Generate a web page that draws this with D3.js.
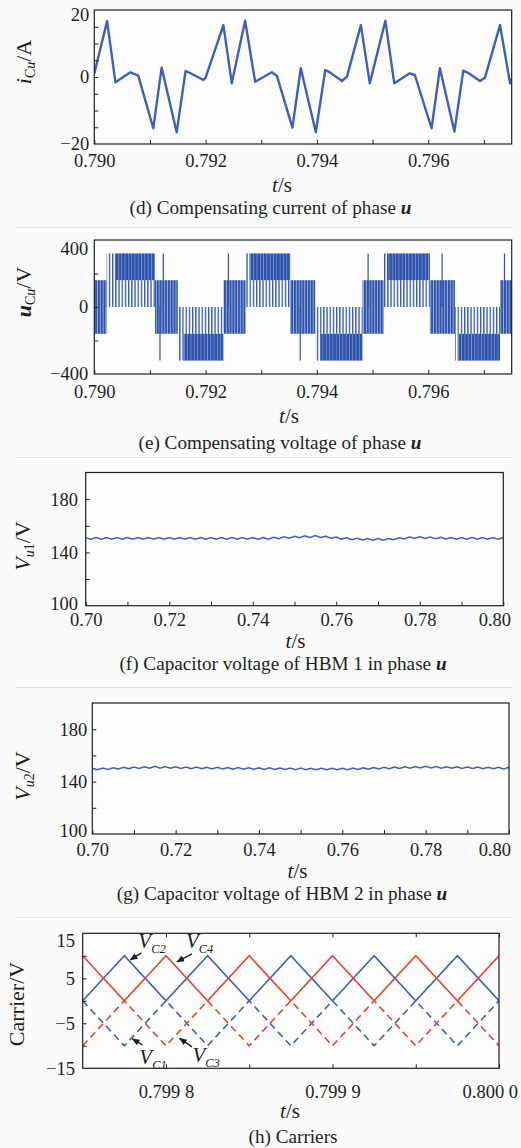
<!DOCTYPE html>
<html>
<head>
<meta charset="utf-8">
<script src="https://cdn.jsdelivr.net/npm/d3@7"></script>
<style>
  body { margin: 0; background: #fafafa; }
  svg, svg text { font-family: "Liberation Serif", "Times New Roman", "DejaVu Serif", serif; }
</style>
</head>
<body>
<svg id="fig" width="521" height="1148"></svg>
<script>
// ---- (d) compensating current i_Cu (A), vertices
const iCuTime = [0.79000, 0.79023, 0.79038, 0.79065, 0.79079, 0.79106, 0.79121, 0.79148, 0.79164, 0.79172, 0.79196, 0.79200,
  0.79232, 0.79247, 0.79271, 0.79289, 0.79319, 0.79328, 0.79356, 0.79371, 0.79398, 0.79415, 0.79424, 0.79445, 0.79454,
  0.79479, 0.79495, 0.79523, 0.79539, 0.79567, 0.79576, 0.79606, 0.79621, 0.79647, 0.79663, 0.79672, 0.79693, 0.79702,
  0.79729, 0.79747, 0.79750];
const iCuValue = [1.0, 16.7, -1.6, 1.4, 0.4, -15.3, 2.8, -16.5, 1.8, 1.2, -0.9, -0.2,
  15.5, -1.9, 16.8, -1.4, 1.4, 0.4, -15.1, 2.6, -16.5, 2.1, 1.3, -1.2, 0.1,
  15.5, -1.9, 16.8, -1.9, 1.1, 0.6, -15.3, 2.6, -16.3, 1.9, 1.2, -1.2, -0.2,
  15.5, -1.9, -0.5];

// ---- (e) compensating voltage u_Cu (V), switching bands
const outerStart = [0.79037, 0.79160, 0.79279, 0.79407, 0.79526, 0.79655];
const outerEnd   = [0.79109, 0.79232, 0.79352, 0.79482, 0.79603, 0.79729];
const outerLow   = [160, -320, 160, -320, 160, -320];
const outerHigh  = [320, -160, 320, -160, 320, -160];
const innerLow   = [0, -160, 0, -160, 0, -160];
const innerHigh  = [160, 0, 160, 0, 160, 0];
const midStart = [0.79000, 0.79109, 0.79232, 0.79352, 0.79482, 0.79603, 0.79729];
const midEnd   = [0.79022, 0.79150, 0.79272, 0.79397, 0.79520, 0.79648, 0.79750];
const midLow   = [-160, -160, -160, -160, -160, -160, -160];
const midHigh  = [160, 160, 160, 160, 160, 160, 160];
const stepStart = [0.79022, 0.79150, 0.79272, 0.79397, 0.79520, 0.79648];
const stepEnd   = [0.79037, 0.79160, 0.79279, 0.79407, 0.79526, 0.79655];
const stepLow   = [0, -320, 0, -320, 0, -320];
const stepHigh  = [320, 0, 320, 0, 320, 0];
const spikeTime = [0.79118, 0.79124, 0.79241, 0.79370, 0.79492, 0.79625, 0.79737];
const spikeLow  = [-320, 0, 0, -320, 0, 0, 0];
const spikeHigh = [0, 320, 320, 0, 320, 320, 320];

// ---- (f), (g) capacitor voltages (V), sampled every 1.25 ms from 0.70 s
const capStart = 0.70, capStep = 0.00125;
const vU1 = [151.1, 149.9, 151.1, 149.9, 151.1, 149.9, 151.1, 149.9, 151.1, 149.9, 151.1, 149.9, 151.1, 149.9, 151.1, 149.9,
  151.1, 149.9, 151.1, 149.9, 151.1, 149.9, 151.1, 149.9, 151.1, 149.9, 151.1, 149.9, 151.1, 149.9, 151.1, 149.9,
  151.1, 149.9, 151.1, 149.9, 151.3, 150.3, 151.7, 150.7, 152.1, 151.1, 152.4, 151.3, 152.6, 151.2, 152.1, 150.6,
  151.5, 150.0, 151.0, 149.6, 150.7, 149.4, 150.5, 149.2, 150.4, 149.2, 150.5, 149.5, 151.0, 150.1, 151.6, 150.6,
  151.8, 150.5, 151.6, 150.3, 151.4, 150.1, 151.2, 149.9, 151.1, 149.9, 151.1, 149.9, 151.1, 149.9, 151.1, 149.9, 151.1];
const vU2 = [150.2, 149.1, 150.4, 149.3, 150.6, 149.6, 150.9, 149.9, 151.2, 150.1, 151.4, 150.3, 151.6, 150.3, 151.5, 150.2,
  151.3, 150.0, 151.2, 149.9, 151.1, 149.8, 151.0, 149.7, 150.9, 149.6, 150.8, 149.5, 150.7, 149.4, 150.6, 149.4,
  150.5, 149.3, 150.5, 149.2, 150.4, 149.2, 150.3, 149.1, 150.3, 149.0, 150.2, 149.0, 150.2, 149.0, 150.2, 149.0,
  150.2, 149.1, 150.4, 149.3, 150.6, 149.5, 150.8, 149.7, 151.0, 149.9, 151.2, 150.1, 151.4, 150.3, 151.5, 150.4,
  151.6, 150.4, 151.5, 150.3, 151.4, 150.2, 151.3, 150.1, 151.2, 150.0, 151.1, 149.9, 151.0, 149.8, 151.0, 149.7, 150.9];

// ---- (h) carriers (V), triangle vertices
const carrierTime = [0.79975, 0.799775, 0.7998, 0.799825, 0.79985, 0.799875, 0.7999, 0.799925, 0.79995, 0.799975, 0.8];
const vC1 = [0, -10, 0, -10, 0, -10, 0, -10, 0, -10, 0];
const vC2 = [0, 10, 0, 10, 0, 10, 0, 10, 0, 10, 0];
const vC3 = [-10, 0, -10, 0, -10, 0, -10, 0, -10, 0, -10];
const vC4 = [10, 0, 10, 0, 10, 0, 10, 0, 10, 0, 10];
const carrierNames = ['C2', 'C4', 'C1', 'C3'];
const carrierTargetT = [0.799775, 0.7998, 0.799775, 0.7998];
const carrierTargetV = [10, 10, -10, -10];

const serif = '"Liberation Serif", "Times New Roman", "DejaVu Serif", serif';
const blue = '#3f5fbc', pwmBlue = '#2d53ae', red = '#f0412f', ink = '#1e1e1e';
const svg = d3.select('#fig').attr('font-family', serif);
const defs = svg.append('defs');

function stripes(id, period, bar) {
  defs.append('pattern').attr('id', id).attr('patternUnits', 'userSpaceOnUse')
    .attr('width', period).attr('height', 20)
    .append('rect').attr('width', bar).attr('height', 20).attr('fill', pwmBlue);
}
stripes('pwmDense', 3.3, 3.0);
stripes('pwmMid', 2.8, 2.3);
stripes('pwmSparse', 3.2, 1.3);

defs.append('marker').attr('id', 'arrow').attr('viewBox', '0 0 10 10')
  .attr('refX', 9).attr('refY', 5).attr('markerWidth', 8).attr('markerHeight', 8)
  .attr('orient', 'auto-start-reverse').attr('markerUnits', 'userSpaceOnUse')
  .append('path').attr('d', 'M0,1L10,5L0,9z').attr('fill', ink);

let clipCount = 0;
function makePanel(cfg) {
  const g = svg.append('g');
  const x = d3.scaleLinear().domain(cfg.xDomain).range([cfg.left, cfg.right]);
  const y = d3.scaleLinear().domain(cfg.yDomain).range([cfg.bottom, cfg.top]);
  const id = 'clip' + (clipCount++);
  defs.append('clipPath').attr('id', id).append('rect')
    .attr('x', cfg.left).attr('y', cfg.top)
    .attr('width', cfg.right - cfg.left).attr('height', cfg.bottom - cfg.top);
  g.append('rect').attr('x', cfg.left).attr('y', cfg.top)
    .attr('width', cfg.right - cfg.left).attr('height', cfg.bottom - cfg.top).attr('fill', '#fdfdfd');
  const plot = g.append('g').attr('clip-path', `url(#${id})`);
  return { g, plot, x, y, cfg };
}

function styleAxis(sel) {
  sel.attr('font-family', serif).attr('font-size', null).attr('color', ink);
  sel.select('.domain').remove();
}

function finishPanel(p) {
  const { g, x, y, cfg } = p;
  // ticks point into the plot
  g.append('g').attr('transform', `translate(0,${cfg.bottom})`)
    .call(d3.axisBottom(x).tickValues(cfg.xMinor).tickSize(-4).tickFormat(''))
    .call(styleAxis);
  if (cfg.topTicks) {
    g.append('g').attr('transform', `translate(0,${cfg.top})`)
      .call(d3.axisTop(x).tickValues(cfg.xMinor).tickSize(-4).tickFormat(''))
      .call(styleAxis);
  }
  g.append('g').attr('transform', `translate(${cfg.left},0)`)
    .call(d3.axisLeft(y).tickValues(cfg.yMinor).tickSize(-4).tickFormat(''))
    .call(styleAxis);

  const xl = g.append('g').attr('transform', `translate(0,${cfg.bottom})`)
    .call(d3.axisBottom(x).tickValues(cfg.xTicks).tickSize(0).tickPadding(cfg.xPad)
      .tickFormat((d, i) => cfg.xLabels[i]))
    .call(styleAxis);
  xl.selectAll('text').attr('font-size', 18.5).attr('fill', ink)
    .each(function () {
      const w = this.getComputedTextLength();
      const cx = +d3.select(this.parentNode).attr('transform').match(/translate\(([-\d.]+)/)[1];
      if (cx + w / 2 > cfg.maxRight) d3.select(this).attr('x', cfg.maxRight - w / 2 - cx);
    });

  const yl = g.append('g').attr('transform', `translate(${cfg.left},0)`)
    .call(d3.axisLeft(y).tickValues(cfg.yTicks).tickSize(0).tickPadding(cfg.yPad)
      .tickFormat((d, i) => cfg.yLabels[i]))
    .call(styleAxis);
  yl.selectAll('text').attr('font-size', 18.5).attr('fill', ink)
    .filter(d => d === cfg.yDomain[1]).attr('y', cfg.topShift);
  yl.selectAll('text').filter(d => d === cfg.yDomain[0]).attr('y', -cfg.bottomShift);

  g.append('rect').attr('x', cfg.left).attr('y', cfg.top)
    .attr('width', cfg.right - cfg.left).attr('height', cfg.bottom - cfg.top)
    .attr('fill', 'none').attr('stroke', ink).attr('stroke-width', 1.2);

  // axis titles
  const xt = g.append('text').attr('x', cfg.xTitle[0]).attr('y', cfg.xTitle[1])
    .attr('text-anchor', 'middle').attr('font-size', 21).attr('fill', ink);
  xt.append('tspan').attr('font-style', 'italic').text('t');
  xt.append('tspan').text('/s');

  const yt = g.append('text')
    .attr('transform', `translate(${cfg.yTitle[0]},${cfg.yTitle[1]}) rotate(-90)`)
    .attr('text-anchor', 'middle').attr('font-size', 22).attr('fill', ink);
  cfg.yTitleParts.forEach(part => {
    const ts = yt.append('tspan').text(part.t);
    if (part.i) ts.attr('font-style', 'italic');
    if (part.b) ts.attr('font-weight', 'bold');
    if (part.sub) ts.attr('font-size', 14);
    if (part.dy) ts.attr('dy', part.dy);
  });

  const cap = g.append('text').attr('x', cfg.caption[0]).attr('y', cfg.caption[1])
    .attr('text-anchor', 'middle').attr('font-size', 19.2).attr('fill', ink);
  cap.append('tspan').text(cfg.captionText);
  if (cfg.captionU) cap.append('tspan').attr('font-style', 'italic').attr('font-weight', 'bold').text(' u');

  // faint separator below each panel
  if (cfg.sep) {
    svg.append('line').attr('x1', 15).attr('x2', 512)
      .attr('y1', cfg.sep).attr('y2', cfg.sep).attr('stroke', '#e4e4e4').attr('stroke-width', 1);
  }
}

// ---------- panel (d)
const pd = makePanel({
  left: 94.3, right: 511.7, top: 10, bottom: 144,
  xDomain: [0.790, 0.7975], yDomain: [-20, 20],
  xMinor: [0.790, 0.791, 0.792, 0.793, 0.794, 0.795, 0.796, 0.797],
  xTicks: [0.790, 0.792, 0.794, 0.796], xLabels: ['0.790', '0.792', '0.794', '0.796'],
  yMinor: [-15, -10, -5, 0, 5, 10, 15], yTicks: [-20, 0, 20], yLabels: ['\u221220', '0', '20'],
  xPad: 10, yPad: 5, topShift: 5, bottomShift: 0, maxRight: 530,
  xTitle: [282, 192], caption: [270.5, 214], sep: 227.5,
  yTitle: [31, 62],
  yTitleParts: [{ t: 'i', i: true }, { t: 'C', sub: true, dy: 4 }, { t: 'u', sub: true, i: true }, { t: '/A', dy: -4 }],
  captionText: '(d) Compensating current of phase', captionU: true
});
pd.plot.append('path')
  .datum(iCuTime.map((t, i) => [t, iCuValue[i]]))
  .attr('d', d3.line().x(d => pd.x(d[0])).y(d => pd.y(d[1])))
  .attr('fill', 'none').attr('stroke', blue).attr('stroke-width', 2.4).attr('stroke-linejoin', 'round');
finishPanel(pd);

// ---------- panel (e)
const pe = makePanel({
  left: 94.3, right: 511.7, top: 240, bottom: 374,
  xDomain: [0.790, 0.7975], yDomain: [-400, 400],
  xMinor: [0.790, 0.791, 0.792, 0.793, 0.794, 0.795, 0.796, 0.797],
  xTicks: [0.790, 0.792, 0.794, 0.796], xLabels: ['0.790', '0.792', '0.794', '0.796'],
  yMinor: [-200, 0, 200], yTicks: [-400, 0, 400], yLabels: ['\u2212400', '0', '400'],
  xPad: 11, yPad: 6, topShift: 9, bottomShift: 0, maxRight: 530,
  xTitle: [289, 423], caption: [280, 449], sep: 457.5,
  yTitle: [31, 292],
  yTitleParts: [{ t: 'u', i: true, b: true }, { t: 'C', sub: true, dy: 4 }, { t: 'u', sub: true, i: true }, { t: '/V', dy: -4 }],
  captionText: '(e) Compensating voltage of phase', captionU: true
});
function bands(p, start, end, low, high, fill) {
  p.plot.append('g').selectAll('rect').data(start).join('rect')
    .attr('x', (d, i) => p.x(start[i]))
    .attr('width', (d, i) => p.x(end[i]) - p.x(start[i]))
    .attr('y', (d, i) => p.y(high[i]))
    .attr('height', (d, i) => p.y(low[i]) - p.y(high[i]))
    .attr('fill', fill);
}
bands(pe, outerStart, outerEnd, innerLow, innerHigh, 'url(#pwmSparse)');
bands(pe, outerStart, outerEnd, outerLow, outerHigh, 'url(#pwmDense)');
bands(pe, midStart, midEnd, midLow, midHigh, 'url(#pwmMid)');
bands(pe, stepStart, stepEnd, stepLow, stepHigh, 'url(#pwmSparse)');
pe.plot.append('g').selectAll('line').data(spikeTime).join('line')
  .attr('x1', d => pe.x(d)).attr('x2', d => pe.x(d))
  .attr('y1', (d, i) => pe.y(spikeLow[i])).attr('y2', (d, i) => pe.y(spikeHigh[i]))
  .attr('stroke', pwmBlue).attr('stroke-width', 1.2);
finishPanel(pe);

// ---------- panels (f), (g)
function capPanel(cfg, values) {
  const p = makePanel(cfg);
  p.plot.append('path')
    .datum(values.map((v, i) => [capStart + i * capStep, v]))
    .attr('d', d3.line().x(d => p.x(d[0])).y(d => p.y(d[1])))
    .attr('fill', 'none').attr('stroke', blue).attr('stroke-width', 1.5);
  finishPanel(p);
}
const capTicks = [0.70, 0.71, 0.72, 0.73, 0.74, 0.75, 0.76, 0.77, 0.78, 0.79, 0.80];
capPanel({
  left: 85.7, right: 503.3, top: 472.5, bottom: 605.7,
  xDomain: [0.70, 0.80], yDomain: [100, 200],
  xMinor: capTicks, xTicks: [0.70, 0.72, 0.74, 0.76, 0.78, 0.80],
  xLabels: ['0.70', '0.72', '0.74', '0.76', '0.78', '0.80'],
  yMinor: [120, 140, 160, 180], yTicks: [100, 140, 180], yLabels: ['100', '140', '180'],
  xPad: 7, yPad: 7.7, topShift: 0, bottomShift: 2, maxRight: 511,
  xTitle: [295.5, 648], caption: [283, 670], sep: 687.5,
  yTitle: [30, 546],
  yTitleParts: [{ t: 'V', i: true }, { t: 'u', sub: true, i: true, dy: 4 }, { t: '1', sub: true }, { t: '/V', dy: -4 }],
  captionText: '(f) Capacitor voltage of HBM 1 in phase', captionU: true
}, vU1);
capPanel({
  left: 92.3, right: 509, top: 703, bottom: 834,
  xDomain: [0.70, 0.80], yDomain: [100, 200],
  xMinor: capTicks, xTicks: [0.70, 0.72, 0.74, 0.76, 0.78, 0.80],
  xLabels: ['0.70', '0.72', '0.74', '0.76', '0.78', '0.80'],
  yMinor: [120, 140, 160, 180], yTicks: [100, 140, 180], yLabels: ['100', '140', '180'],
  xPad: 9, yPad: 5, topShift: 0, bottomShift: 3, maxRight: 511,
  xTitle: [297.5, 878], caption: [282, 900], sep: 917.5,
  yTitle: [30, 776],
  yTitleParts: [{ t: 'V', i: true }, { t: 'u', sub: true, i: true, dy: 4 }, { t: '2', sub: true }, { t: '/V', dy: -4 }],
  captionText: '(g) Capacitor voltage of HBM 2 in phase', captionU: true
}, vU2);

// ---------- panel (h)
const ph = makePanel({
  left: 82.7, right: 499, top: 933.3, bottom: 1068.3,
  xDomain: [0.79975, 0.8000], yDomain: [-15, 15],
  xMinor: [0.7998, 0.79985, 0.7999, 0.79995, 0.8],
  xTicks: [0.7998, 0.7999, 0.8], xLabels: ['0.799 8', '0.799 9', '0.800 0'],
  yMinor: [-10, -5, 0, 5, 10], yTicks: [-15, -5, 5, 15], yLabels: ['\u221215', '\u22125', '5', '15'],
  xPad: 16.6, yPad: 7.7, topShift: 7, bottomShift: 0, maxRight: 518, topTicks: true,
  xTitle: [290, 1118], caption: [293, 1143], sep: 0,
  yTitle: [24, 1004],
  yTitleParts: [{ t: 'Carrier/V' }],
  captionText: '(h) Carriers', captionU: false
});
const carrierLine = d3.line().x(d => ph.x(d[0])).y(d => ph.y(d[1]));
[[vC1, blue, true], [vC3, red, true], [vC2, blue, false], [vC4, red, false]].forEach(([vals, col, dashed]) => {
  ph.plot.append('path')
    .datum(carrierTime.map((t, i) => [t, vals[i]]))
    .attr('d', carrierLine).attr('fill', 'none').attr('stroke', col).attr('stroke-width', 1.6)
    .attr('stroke-dasharray', dashed ? '7,4.5' : null);
});
finishPanel(ph);

// carrier annotations: arrow tip offset from the marked vertex, tail and label offsets
const annTip = [[6, 4], [11, 6], [8, -7], [13.5, -7.5]];
const annTail = [[11, -7], [15, -8], [10, 6], [12.5, 8.5]];
const annText = [[8, -12], [9, -14], [7, 25], [13, 24]];
carrierNames.forEach((name, i) => {
  const tx = ph.x(carrierTargetT[i]) + annTip[i][0];
  const ty = ph.y(carrierTargetV[i]) + annTip[i][1];
  ph.g.append('line')
    .attr('x1', tx + annTail[i][0]).attr('y1', ty + annTail[i][1])
    .attr('x2', tx).attr('y2', ty)
    .attr('stroke', ink).attr('stroke-width', 1.4).attr('marker-end', 'url(#arrow)');
  const t = ph.g.append('text').attr('x', tx + annText[i][0]).attr('y', ty + annText[i][1])
    .attr('font-size', 21).attr('fill', ink);
  t.append('tspan').attr('font-style', 'italic').text('V');
  t.append('tspan').attr('font-size', 12.5).attr('font-style', 'italic').attr('dy', 5).text(name);
});
</script>
</body>
</html>
